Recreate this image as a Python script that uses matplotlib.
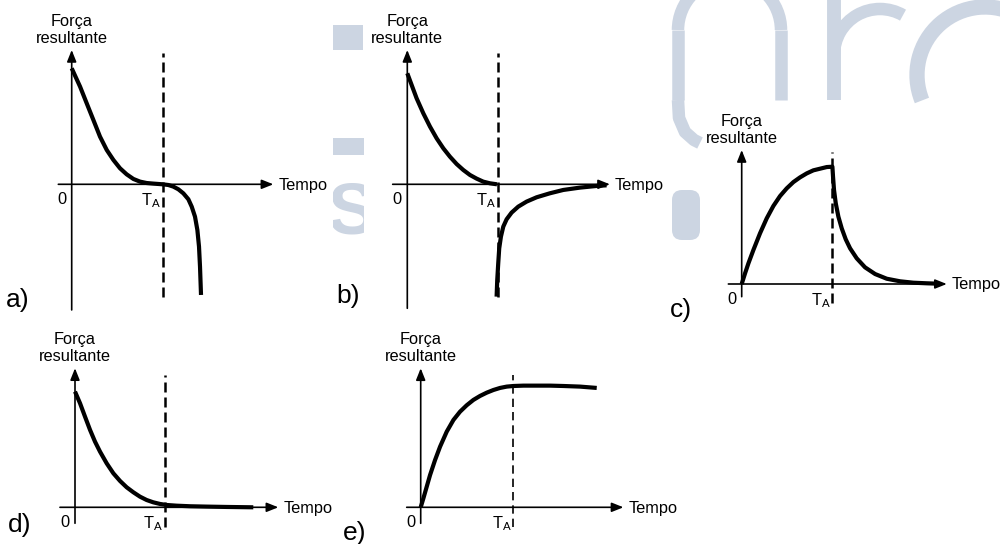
import matplotlib.pyplot as plt
from matplotlib.patches import Rectangle, FancyBboxPatch, Arc
from matplotlib.transforms import Bbox, TransformedBbox

plt.rcParams['font.family'] = ['Liberation Sans', 'DejaVu Sans']

# time in units of T_A, force normalised (1 = start / plateau value)
a_t = [0, .092, .165, .238, .311, .385, .458, .531, .604, .678, .751, .824, .897, 1.0,
       1.062, 1.117, 1.172, 1.227, 1.282, 1.319, 1.355, 1.381, 1.399, 1.410, 1.421]
a_f = [1.0, .842, .698, .555, .411, .296, .210, .138, .086, .046, .023, .011, .006, 0,
       -.006, -.020, -.043, -.078, -.129, -.193, -.279, -.394, -.537, -.710, -.954]

b1_t = [0, .048, .103, .177, .251, .325, .399, .472, .546, .620, .694, .768, .841, .915, .993]
b1_f = [1.0, .895, .775, .640, .520, .414, .324, .249, .183, .129, .084, .051, .024, .009, 0]
b2_t = [.989, .996, 1.007, 1.018, 1.037, 1.063, 1.100, 1.155, 1.229, 1.321, 1.432, 1.579,
        1.727, 1.911, 2.096, 2.207]
b2_f = [-1.012, -.862, -.712, -.577, -.471, -.381, -.315, -.255, -.201, -.156, -.117, -.081,
        -.051, -.030, -.015, -.009]

c_t = [0, .037, .074, .129, .202, .276, .349, .423, .496, .570, .643, .717, .790, .864, .938, 1.0,
       1.007, 1.018, 1.037, 1.066, 1.103, 1.147, 1.195, 1.268, 1.360, 1.471, 1.599, 1.746,
       1.893, 2.040, 2.151]
c_f = [0, .091, .176, .290, .432, .560, .665, .750, .815, .869, .909, .943, .969, .983, .997, 1.0,
       .915, .801, .688, .574, .474, .381, .304, .219, .142, .085, .045, .023, .011, .006, .003]

d_t = [0, .056, .111, .167, .222, .278, .352, .426, .500, .574, .648, .722, .796, .870, .944,
       1.019, 1.130, 1.278, 1.463, 1.685, 1.981]
d_f = [1.0, .899, .784, .669, .568, .481, .380, .294, .228, .173, .130, .092, .063, .043, .029,
       .020, .014, .009, .006, .003, 0]

e_t = [0, .029, .065, .101, .155, .209, .281, .353, .424, .496, .568, .640, .712, .784, .856,
       .928, 1.0, 1.108, 1.252, 1.396, 1.540, 1.719, 1.899]
e_f = [0, .074, .170, .266, .390, .500, .624, .720, .788, .841, .885, .918, .945, .967, .984,
       .995, 1.0, 1.003, 1.003, 1.003, 1.0, .995, .984]

W, H = 1000, 544
fig = plt.figure(figsize=(W / 100, H / 100), dpi=100)

# background / watermark, in pixel coordinates
bg = fig.add_axes([0, 0, 1, 1])
bg.set_xlim(0, W)
bg.set_ylim(H, 0)
bg.axis('off')
wm = '#ccd5e2'
bg.add_patch(Rectangle((333, 25), 30, 25, color=wm, lw=0))
bg.add_patch(Rectangle((333, 138), 31, 17, color=wm, lw=0))
s = bg.text(352, 214, 'S', fontsize=52, fontweight='bold', color=wm, ha='center', va='center')
s.set_clip_on(True)
s.set_clip_box(TransformedBbox(Bbox([[333, 0], [364, H]]), bg.transData))
bg.add_patch(FancyBboxPatch((675, 193), 22, 44, boxstyle='round,pad=3,rounding_size=10',
                            color=wm, lw=0))
bg.plot([678, 678], [100, 30], color=wm, lw=9, solid_capstyle='butt')
bg.plot([781, 781], [100, 30], color=wm, lw=9, solid_capstyle='butt')
bg.plot([678, 679, 685, 694, 700], [100, 118, 132, 140, 143], color=wm, lw=9,
        solid_capstyle='butt')
bg.add_patch(Arc((729.5, 30), 103, 103, theta1=180, theta2=360, color=wm, lw=9))
bg.plot([834, 834], [100, 0], color=wm, lw=10, solid_capstyle='butt')
bg.add_patch(Arc((880, 55), 92, 92, theta1=180, theta2=300, color=wm, lw=9))
bg.add_patch(Arc((985, 75), 136, 136, theta1=158, theta2=300, color=wm, lw=11))

# panel layout: origin (px), px per unit (t, F), axis extents, dashed extent
panels = [
    dict(curves=[(a_t, a_f)], origin=(71.7, 184.3), scale=(91.0, 116.0),
         t_ax=(-0.147, 2.216), f_ax=(-1.083, 1.158), dash=(-0.968, 1.129), dash_lw=1.8,
         dash_ls=(0, (4, 2)), label='a)', label_xy=(18, 300)),
    dict(curves=[(b1_t, b1_f), (b2_t, b2_f)], origin=(407.3, 184.3), scale=(90.3, 111.0),
         t_ax=(-0.162, 2.244), f_ax=(-1.117, 1.21), dash=(-1.012, 1.18), dash_lw=1.8,
         dash_ls=(0, (4, 2)), label='b)', label_xy=(348, 296)),
    dict(curves=[(c_t, c_f)], origin=(741.7, 284.0), scale=(90.7, 117.3),
         t_ax=(-0.147, 2.261), f_ax=(-0.108, 1.142), dash=(-0.165, 1.128), dash_lw=1.8,
         dash_ls=(0, (4, 2)), label='c)', label_xy=(681, 310)),
    dict(curves=[(d_t, d_f)], origin=(75.0, 507.3), scale=(90.0, 115.7),
         t_ax=(-0.167, 2.259), f_ax=(-0.138, 1.202), dash=(-0.167, 1.144), dash_lw=1.8,
         dash_ls=(0, (4, 2)), label='d)', label_xy=(20, 525)),
    dict(curves=[(e_t, e_f)], origin=(420.7, 507.3), scale=(92.7, 121.3),
         t_ax=(-0.151, 2.187), f_ax=(-0.132, 1.146), dash=(-0.159, 1.091), dash_lw=1.2,
         dash_ls=(0, (5, 3)), label='e)', label_xy=(355, 533)),
]

arrow = dict(arrowstyle='-|>,head_length=0.5,head_width=0.2', color='black', lw=1.2,
             mutation_scale=14, shrinkA=0, shrinkB=0)
txt = dict(textcoords='offset pixels', fontsize=11.8)

for p in panels:
    ox, oy = p['origin']
    sx, sy = p['scale']
    ax = fig.add_axes([0, 0, 1, 1])
    ax.set_xlim(-ox / sx, (W - ox) / sx)
    ax.set_ylim(-(H - oy) / sy, oy / sy)
    ax.axis('off')
    ax.patch.set_alpha(0)

    t0, t1 = p['t_ax']
    f0, f1 = p['f_ax']
    ax.annotate('', xy=(t1, 0), xytext=(t0, 0), arrowprops=arrow)
    ax.annotate('', xy=(0, f1), xytext=(0, f0), arrowprops=arrow)
    ax.plot([1, 1], p['dash'], color='black', lw=p['dash_lw'], ls=p['dash_ls'])
    for t, f in p['curves']:
        ax.plot(t, f, color='black', lw=3, solid_capstyle='butt', solid_joinstyle='round')

    ax.annotate('Força\nresultante', xy=(0, f1), xytext=(0, 4), ha='center', va='bottom',
                linespacing=1.17, **txt)
    ax.annotate('Tempo', xy=(t1, 0), xytext=(5, -1), ha='left', va='center', **txt)
    ax.annotate('0', xy=(0, 0), xytext=(-10, -15), ha='center', va='center', **txt)
    ax.annotate(r'$\mathregular{T_A}$', xy=(1, 0), xytext=(-2, -7), ha='right', va='top', **txt)

    bg.text(p['label_xy'][0], p['label_xy'][1], p['label'], fontsize=19, ha='center',
            va='center')

fig.savefig('out.png', dpi=100)
